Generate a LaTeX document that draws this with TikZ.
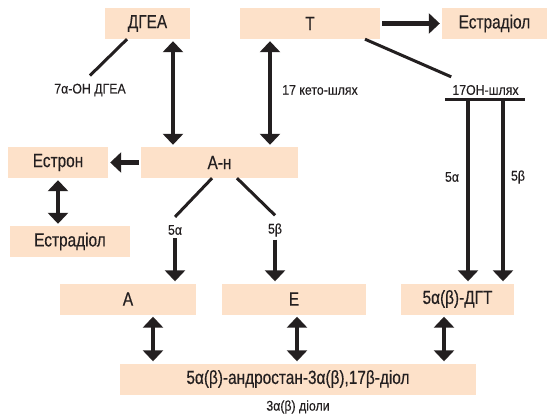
\documentclass[tikz,border=0pt]{standalone}
\usepackage{fontspec}
\setmainfont{Liberation Sans}[FakeStretch=0.81, FakeBold=0.4]
\newfontfamily\labelfont{Liberation Sans}[FakeStretch=0.88, FakeBold=0.3]
\usepackage{tikz}
\usetikzlibrary{arrows.meta}
\definecolor{boxfill}{RGB}{253, 225, 201}
\definecolor{inkdark}{RGB}{35, 31, 32}
\tikzset{
  stepbox/.style={
    rectangle, fill=boxfill, inner sep=0pt,
    minimum height=31pt, text=inkdark,
    font=\fontsize{19}{21}\selectfont
  },
  pathlabel/.style={
    inner sep=1pt, text=inkdark,
    font=\labelfont\fontsize{14}{16}\selectfont
  },
  plainline/.style={draw=inkdark, line width=3pt},
  flowline/.style={
    draw=inkdark, line width=4.5pt, shorten >=2pt, shorten <=2pt,
    -{Triangle[length=11pt, width=20pt]}
  },
  bidirline/.style={
    draw=inkdark, line width=4.5pt, shorten >=2pt, shorten <=2pt,
    {Triangle[length=11pt, width=20pt]}-{Triangle[length=11pt, width=20pt]}
  }
}
\begin{document}
\begin{tikzpicture}[x=1pt, y=-1pt]
  \useasboundingbox (0,0) rectangle (556,417);

  % Top row
  \node[stepbox, minimum width=85pt] (dgea) at (147.5,23.5) {ДГЕА};
  \node[stepbox, minimum width=140pt] (t) at (310,23.5) {Т};
  \node[stepbox, minimum width=105pt] (estradiolA) at (494.5,23.5) {Естрадіол};

  % Middle row
  \node[stepbox, minimum width=100pt] (estron) at (58,162.5) {Естрон};
  \node[stepbox, minimum width=157pt] (an) at (219.5,162.5) {А-н};
  \node[stepbox, minimum width=120pt] (estradiolB) at (70,241.5) {Естрадіол};

  % Lower row
  \node[stepbox, minimum width=136pt] (a) at (128,299) {А};
  \node[stepbox, minimum width=144pt] (e) at (294,299) {Е};
  \node[stepbox, minimum width=113pt] (dgt) at (457.5,299) {5α(β)-ДГТ};

  % Diols
  \node[stepbox, minimum width=356pt] (diol) at (298,379) {5α(β)-андростан-3α(β),17β-діол};
  \node[pathlabel] (diollabel) at (298,407) {3α(β) діоли};

  % Path labels
  \node[pathlabel] (ohdgea) at (90,90) {7α-ОН ДГЕА};
  \node[pathlabel] (ketopath) at (320,90) {17 кето-шлях};
  \node[pathlabel] (ohpath) at (485.5,90) {17ОН-шлях};
  \node[pathlabel] (an5a) at (175,230) {5α};
  \node[pathlabel] (an5b) at (275,230) {5β};
  \node[pathlabel] (dgt5a) at (452,177) {5α};
  \node[pathlabel] (dgt5b) at (518,177) {5β};

  % 17OH bar
  \coordinate (barL) at (445,100);
  \coordinate (barR) at (525,100);
  \coordinate (bar5a) at (468,100);
  \coordinate (bar5b) at (503,100);

  % Connections
  \draw[bidirline] ([xshift=25.5pt]dgea.south) -- ([xshift=25.5pt]dgea.south |- an.north);
  \draw[bidirline] ([xshift=-40pt]t.south) -- ([xshift=-40pt]t.south |- an.north);
  \draw[plainline] ([xshift=-20.5pt]dgea.south) -- ([yshift=7pt]ohdgea.north);
  \draw[flowline] (t.east) -- (estradiolA.west);
  \draw[plainline] ([xshift=55pt]t.south) -- ([yshift=7pt]ohpath.north west);
  \draw[plainline] (barL) -- (barR);
  \draw[flowline, shorten <=0pt] (bar5a) -- (bar5a |- dgt.north);
  \draw[flowline, shorten <=0pt] (bar5b) -- (bar5b |- dgt.north);

  \draw[flowline] (an.west) -- (estron.east);
  \draw[bidirline] (estron.south) -- (estron.south |- estradiolB.north);

  \draw[plainline] ([xshift=-7.5pt]an.south) -- ([yshift=7pt]an5a.north);
  \draw[plainline] ([xshift=17.5pt]an.south) -- ([yshift=7pt]an5b.north);
  \draw[flowline] (an5a.south) -- (an5a.south |- a.north);
  \draw[flowline] (an5b.south) -- (an5b.south |- e.north);

  \draw[bidirline] ([xshift=25pt]a.south) -- ([xshift=25pt]a.south |- diol.north);
  \draw[bidirline] ([xshift=3pt]e.south) -- ([xshift=3pt]e.south |- diol.north);
  \draw[bidirline] ([xshift=-13.5pt]dgt.south) -- ([xshift=-13.5pt]dgt.south |- diol.north);

\end{tikzpicture}
\end{document}
